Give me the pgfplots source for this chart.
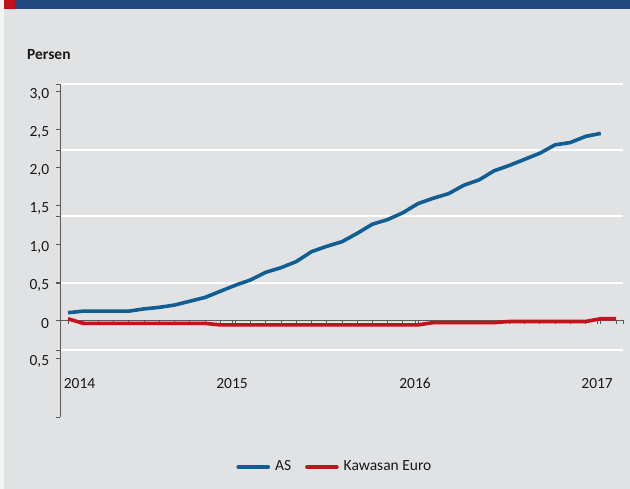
\documentclass[border=0pt]{standalone}
\usepackage{fontspec}
\setmainfont{Carlito}
\usepackage{pgfplots}
\pgfplotsset{compat=1.18}
\definecolor{bg}{RGB}{225,226,228}
\definecolor{band}{RGB}{31,73,126}
\definecolor{redsq}{RGB}{192,16,26}
\definecolor{asblue}{RGB}{16,94,147}
\definecolor{eured}{RGB}{192,20,28}
\definecolor{axgray}{RGB}{90,90,90}
\definecolor{txt}{RGB}{25,25,25}
\begin{document}
\fontsize{15.5}{18}\selectfont
\begin{tikzpicture}[x=1pt,y=1pt,font=\fontsize{15.5}{18}\selectfont]
\fill[bg] (0,0) rectangle (630,489);
\fill[white!60!bg] (0,0) rectangle (3.5,489);
\fill[band] (3.5,479.5) rectangle (630,489);
\fill[redsq] (3.5,479.5) rectangle (15,489);
\node[anchor=west, font=\fontsize{15.5}{18}\selectfont\bfseries, inner sep=0pt, text=txt] at (27,434) {Persen};
\begin{axis}[
  at={(60.3pt,72pt)}, anchor=south west,
  scale only axis, width=562.7pt, height=333pt,
  xmin=-0.506, xmax=36.46, ymin=-1.267, ymax=3.097,
  axis x line*=middle, axis y line*=left,
  axis line style={draw=axgray, line width=1.1pt},
  xtick={0,1,...,36,36.46}, xticklabels={},
  xtick align=outside, ytick align=outside,
  major tick length=4pt, minor tick length=4pt,
  xtick style={draw=axgray, line width=0.8pt},
  extra x ticks={0.76,10.78,22.8,34.76},
  extra x tick labels={2014,2015,2016,2017},
  extra x tick style={tick style={draw=none}, tick label style={inner sep=0pt, anchor=north, yshift=-54pt}},
  ytick={2.232,1.367,0.489,-0.389,3.097},
  yticklabels={},
  ymajorgrids,
  major grid style={draw=white, line width=1.3pt},
  ytick style={draw=axgray, line width=0.8pt},
  minor ytick={-1.267},
  extra y ticks={3.0,2.5,2.0,1.5,1.0,0.5,0,-0.5},
  extra y tick labels={{3,0},{2,5},{2,0},{1,5},{1,0},{0,5},{0},{0,5}},
  extra y tick style={ymajorgrids=false, tick style={draw=none}, tick label style={inner sep=0pt, anchor=east, xshift=-7pt, yshift=-3pt}},
  tick label style={text=txt},
  clip=false,
  legend style={at={(0.488,-0.150)}, anchor=center, draw=none, fill=none,
    legend columns=2, text=txt,
    /tikz/every odd column/.append style={column sep=3pt},
    /tikz/every even column/.append style={column sep=12pt}},
  legend image code/.code={\draw[#1, line cap=round] (0pt,0pt) -- (30pt,0pt);},
]
\addplot[asblue, line width=3.6pt, line join=round, no markers] coordinates {
(0,0.10) (1,0.12) (2,0.12) (3,0.12) (4,0.12) (5,0.15) (6,0.17) (7,0.20)
(8,0.25) (9,0.30) (10,0.38) (11,0.46) (12,0.53) (13,0.63) (14,0.69) (15,0.77)
(16,0.90) (17,0.97) (18,1.03) (19,1.14) (20,1.26) (21,1.32) (22,1.41) (23,1.53)
(24,1.60) (25,1.66) (26,1.77) (27,1.84) (28,1.96) (29,2.03) (30,2.11) (31,2.19)
(32,2.30) (33,2.33) (34,2.41) (35,2.45)
};
\addlegendentry{AS}
\addplot[eured, line width=3.6pt, line join=round, no markers] coordinates {
(0,0.02) (1,-0.04) (2,-0.04) (3,-0.04) (4,-0.04) (5,-0.04) (6,-0.04) (7,-0.04)
(8,-0.04) (9,-0.04) (10,-0.06) (11,-0.06) (12,-0.06) (13,-0.06) (14,-0.06) (15,-0.06)
(16,-0.06) (17,-0.06) (18,-0.06) (19,-0.06) (20,-0.06) (21,-0.06) (22,-0.06) (23,-0.06)
(24,-0.03) (25,-0.03) (26,-0.03) (27,-0.03) (28,-0.03) (29,-0.015) (30,-0.015) (31,-0.015)
(32,-0.015) (33,-0.015) (34,-0.015) (35,0.02) (36,0.02)
};
\addlegendentry{Kawasan Euro}
\end{axis}
\end{tikzpicture}
\end{document}
